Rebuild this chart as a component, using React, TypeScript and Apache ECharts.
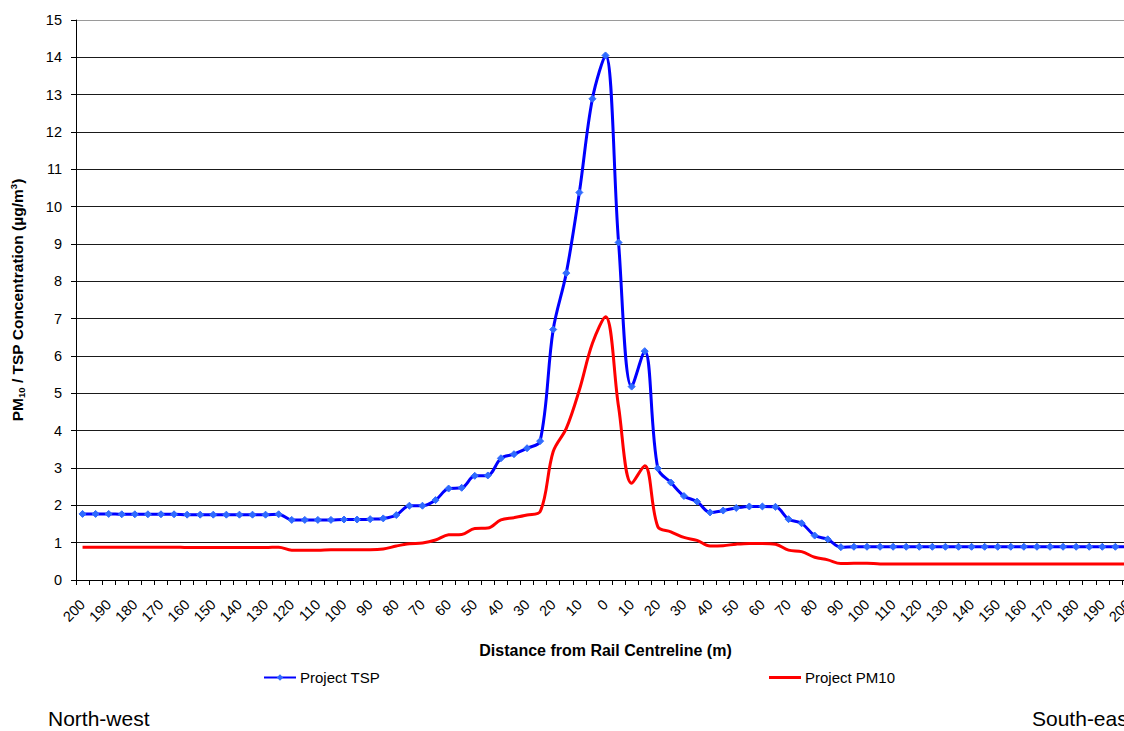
import React, { useEffect, useRef } from "react";
import * as echarts from "echarts";

const categories: string[] = [
  "200","195","190","185","180","175","170","165","160","155","150","145","140","135","130","125","120","115","110","105","100","95","90","85","80","75","70","65","60","55","50","45","40","35","30","25","20","15","10","5",
  "0",
  "5","10","15","20","25","30","35","40","45","50","55","60","65","70","75","80","85","90","95","100","105","110","115","120","125","130","135","140","145","150","155","160","165","170","175","180","185","190","195","200",
];

const tspValues: number[] = [
  1.77, 1.77, 1.77, 1.76, 1.76, 1.76, 1.76, 1.76, 1.75, 1.75, 1.75, 1.75, 1.75, 1.75, 1.75, 1.76,
  1.61, 1.61, 1.61, 1.61, 1.62, 1.62, 1.63, 1.65,
  1.74, 1.99, 1.99, 2.14, 2.45, 2.47, 2.79, 2.8, 3.26, 3.37, 3.53, 3.72,
  6.71, 8.22, 10.38, 12.89, 14.05, 9.04, 5.18, 6.13,
  2.99, 2.61, 2.25, 2.1, 1.81, 1.86, 1.93, 1.97, 1.97, 1.96, 1.63, 1.52, 1.19, 1.09, 0.88,
  0.89, 0.89, 0.89, 0.89, 0.89, 0.89, 0.89, 0.89, 0.89, 0.89, 0.89, 0.89, 0.89, 0.89, 0.89, 0.89, 0.89, 0.89, 0.89, 0.89, 0.89, 0.89,
];

const pm10Values: number[] = [
  0.88, 0.88, 0.88, 0.88, 0.88, 0.88, 0.88, 0.88, 0.87, 0.87, 0.87, 0.87, 0.87, 0.87, 0.87, 0.88,
  0.8, 0.8, 0.8, 0.81, 0.81, 0.81, 0.81, 0.83,
  0.91, 0.97, 0.99, 1.07, 1.21, 1.22, 1.38, 1.39, 1.61, 1.67, 1.74, 1.83,
  3.44, 4.06, 5.09, 6.34, 7.05, 4.64, 2.59, 3.06,
  1.43, 1.29, 1.14, 1.06, 0.91, 0.92, 0.96, 0.98, 0.98, 0.96, 0.8, 0.76, 0.61, 0.54, 0.44,
  0.45, 0.45,
  0.43, 0.43, 0.43, 0.43, 0.43, 0.43, 0.43, 0.43, 0.43, 0.43, 0.43, 0.43, 0.43, 0.43, 0.43, 0.43, 0.43, 0.43, 0.43, 0.43,
];

const seriesNames = ["Project TSP", "Project PM10"];
const directionLabels = ["North-west", "South-east"];

const FONT = "'Liberation Sans', Arial, sans-serif";

export default function App() {
  const ref = useRef<HTMLDivElement>(null);

  useEffect(() => {
    if (!ref.current) return;
    const chart = echarts.init(ref.current, undefined, { renderer: "svg" });
    const gridColors: string[] = [];
    for (let i = 0; i < 16; i++) gridColors.push(i === 15 ? "#9a9a9a" : "#1a1a1a");

    chart.setOption({
      animation: false,
      backgroundColor: "#ffffff",
      textStyle: { fontFamily: FONT },
      grid: { left: 68, top: 20, bottom: 151, right: 15, containLabel: false },
      legend: [
        {
          data: [seriesNames[0]],
          left: 263,
          top: 670,
          padding: 0,
          itemWidth: 32,
          itemHeight: 8,
          itemGap: 4,
          textStyle: { fontFamily: FONT, fontSize: 15, color: "#000", padding: [0, 0, 0, -1] },
        },
        {
          data: [{ name: seriesNames[1], icon: "rect" }],
          left: 769,
          top: 670,
          padding: 0,
          itemWidth: 32,
          itemHeight: 3,
          itemGap: 4,
          textStyle: { fontFamily: FONT, fontSize: 15, color: "#000", padding: [0, 0, 0, -1] },
        },
      ],
      xAxis: {
        type: "category",
        data: categories,
        boundaryGap: true,
        name: "Distance from Rail Centreline (m)",
        nameLocation: "middle",
        nameGap: 62,
        nameTextStyle: { fontFamily: FONT, fontSize: 16, fontWeight: "bold", color: "#000" },
        axisLine: { lineStyle: { color: "#000", width: 1 } },
        axisTick: { show: true, interval: 0, length: 5, lineStyle: { color: "#000" } },
        axisLabel: {
          interval: 1,
          rotate: 45,
          margin: 22,
          fontFamily: FONT,
          fontSize: 14.5,
          color: "#000",
        },
        splitLine: { show: false },
      },
      yAxis: {
        type: "value",
        min: 0,
        max: 15,
        interval: 1,
        name: "{b|PM}{sub|10}{b| / TSP Concentration (µg/m}{sup|3}{b|)}",
        nameLocation: "middle",
        nameRotate: 90,
        nameGap: 50,
        nameTextStyle: {
          fontFamily: FONT,
          fontWeight: "bold",
          fontSize: 15.5,
          color: "#000",
          rich: {
            b: { fontFamily: FONT, fontWeight: "bold", fontSize: 15.5, color: "#000", lineHeight: 18 },
            sub: { fontFamily: FONT, fontWeight: "bold", fontSize: 9.5, color: "#000", lineHeight: 18, verticalAlign: "bottom", padding: [4, 0, 0, 0] },
            sup: { fontFamily: FONT, fontWeight: "bold", fontSize: 9.5, color: "#000", lineHeight: 18, verticalAlign: "top", padding: [0, 0, 7, 0] },
          },
        },
        axisLine: { show: true, lineStyle: { color: "#000", width: 1 } },
        axisTick: { show: true, length: 5, lineStyle: { color: "#000" } },
        axisLabel: { margin: 14, fontFamily: FONT, fontSize: 14.5, color: "#000" },
        splitLine: { show: true, lineStyle: { color: gridColors, width: 1 } },
      },
      series: [
        {
          name: seriesNames[0],
          type: "line",
          data: tspValues,
          smooth: 0.35,
          symbol: "diamond",
          symbolSize: 7,
          showSymbol: true,
          lineStyle: { color: "#0000ff", width: 3 },
          itemStyle: { color: "#2f6bff", borderColor: "#2f6bff" },
          z: 3,
        },
        {
          name: seriesNames[1],
          type: "line",
          data: pm10Values,
          smooth: 0.35,
          symbol: "none",
          showSymbol: false,
          lineStyle: { color: "#ff0000", width: 3 },
          itemStyle: { color: "#ff0000" },
          z: 2,
        },
      ],
      graphic: [
        {
          type: "text",
          left: 48,
          top: 708,
          style: { text: directionLabels[0], font: `21px ${FONT}`, fill: "#000" },
        },
        {
          type: "text",
          left: 1032,
          top: 708,
          style: { text: directionLabels[1], font: `21px ${FONT}`, fill: "#000" },
        },
      ],
    });
    return () => chart.dispose();
  }, []);

  return (
    <div style={{ position: "fixed", left: 0, top: 0, width: 1124, height: 731, overflow: "hidden", background: "#fff" }}>
      <div ref={ref} style={{ width: 1150, height: 731 }} />
    </div>
  );
}
